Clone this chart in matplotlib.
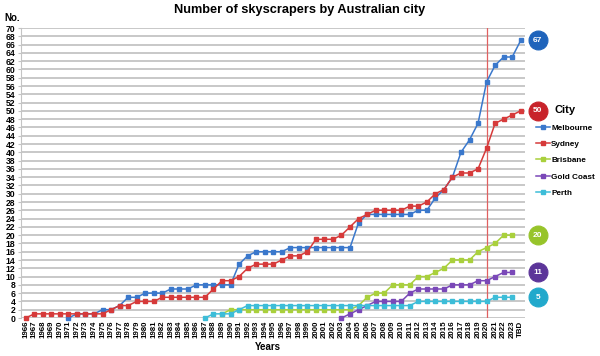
import matplotlib
matplotlib.use("Agg")
import matplotlib.pyplot as plt
import numpy as np

plt.rcParams['font.family'] = ['Liberation Sans', 'DejaVu Sans']

years = [str(y) for y in range(1966, 2024)] + ["TBD"]

melbourne_start = 1971
melbourne = [0, 1, 1, 1, 2, 2, 3, 5, 5, 6, 6, 6, 7, 7, 7, 8, 8, 8, 8, 8,
             13, 15, 16, 16, 16, 16, 17, 17, 17, 17, 17, 17, 17, 17, 23, 25,
             25, 25, 25, 25, 25, 26, 26, 29, 31, 34, 40, 43, 47, 57, 61, 63, 63, 67]
sydney_start = 1966
sydney = [0, 1, 1, 1, 1, 1, 1, 1, 1, 1, 2, 3, 3, 4, 4, 4, 5, 5, 5, 5, 5, 5,
          7, 9, 9, 10, 12, 13, 13, 13, 14, 15, 15, 16, 19, 19, 19, 20, 22, 24,
          25, 26, 26, 26, 26, 27, 27, 28, 30, 31, 34, 35, 35, 36, 41, 47, 48, 49, 50]
brisbane_start = 1989
brisbane = [1, 2, 2, 2, 2, 2, 2, 2, 2, 2, 2, 2, 2, 2, 2, 2, 3, 5, 6, 6, 8, 8,
            8, 10, 10, 11, 12, 14, 14, 14, 16, 17, 18, 20, 20]
goldcoast_start = 2003
goldcoast = [0, 1, 2, 3, 4, 4, 4, 4, 6, 7, 7, 7, 7, 8, 8, 8, 9, 9, 10, 11, 11]
perth_start = 1987
perth = [0, 1, 1, 1, 2, 3, 3, 3, 3, 3, 3, 3, 3, 3, 3, 3, 3, 3, 3, 3, 3, 3,
         3, 3, 3, 4, 4, 4, 4, 4, 4, 4, 4, 4, 5, 5, 5]

cities = ["Melbourne", "Sydney", "Brisbane", "Gold Coast", "Perth"]
series = [(melbourne_start, melbourne), (sydney_start, sydney),
          (brisbane_start, brisbane), (goldcoast_start, goldcoast),
          (perth_start, perth)]
line_colors = ["#3a78cc", "#d63a3a", "#a9d03c", "#7a48b8", "#3dbdd8"]
badge_colors = ["#1f64bb", "#c8232a", "#97c42a", "#5c3599", "#22a9cc"]
badge_values = [67, 50, 20, 11, 5]

fig = plt.figure(figsize=(6.0, 3.56), dpi=100)
ax = fig.add_axes([21/600, 1-318/356, (525-21)/600, (318-28)/356])

for name, (start, vals), col in zip(cities, series, line_colors):
    x0 = start - 1966
    xs = np.arange(x0, x0 + len(vals))
    ax.plot(xs, vals, color=col, lw=1.1, marker='s', ms=2.6, label=name,
            clip_on=False, zorder=3)

for val, col in zip(badge_values, badge_colors):
    ax.scatter([60.0], [val], s=185, color=col, edgecolors=col, linewidths=0.8,
               clip_on=False, zorder=5)
    ax.text(60.0, val, str(val), color='white', fontsize=6, fontweight='bold',
            ha='center', va='center', zorder=6, clip_on=False)

ax.axvline(54, color='#e06060', lw=0.9, zorder=2)

ax.set_xlim(-0.55, 58.5)
ax.set_ylim(0, 70)
ax.set_yticks(np.arange(0, 71, 2))
ax.set_xticks(np.arange(len(years)))
ax.set_xticklabels(years, rotation=90, fontsize=5.7, fontweight='bold')
for lab in ax.get_yticklabels():
    lab.set_fontsize(6.2)
    lab.set_fontweight('bold')
ax.grid(axis='y', color='#c4c4c4', lw=1.3)
ax.set_axisbelow(True)
for s in ['top', 'right', 'bottom']:
    ax.spines[s].set_visible(False)
ax.spines['left'].set_color('#c4c4c4')
ax.tick_params(axis='y', length=2, color='#c4c4c4', pad=2)
ax.tick_params(axis='x', length=0, pad=2)

fig.text(0.5, 1-10/356, "Number of skyscrapers by Australian city", ha='center',
         va='center', fontsize=9.2, fontweight='bold')
fig.text(4/600, 1-18/356, "No.", ha='left', va='center', fontsize=7,
         fontweight='bold')
fig.text(268/600, 1-347/356, "Years", ha='center', va='center', fontsize=7,
         fontweight='bold')

leg = fig.legend(loc='upper left', bbox_to_anchor=(533/600, 1-102/356),
                 frameon=False, title="City", fontsize=5.9, handlelength=1.7,
                 handletextpad=0.1, labelspacing=1.05, borderaxespad=0)
leg.get_title().set_fontweight('bold')
leg.get_title().set_fontsize(8)
for t in leg.get_texts():
    t.set_fontweight('bold')

fig.savefig("out.png", dpi=100)
